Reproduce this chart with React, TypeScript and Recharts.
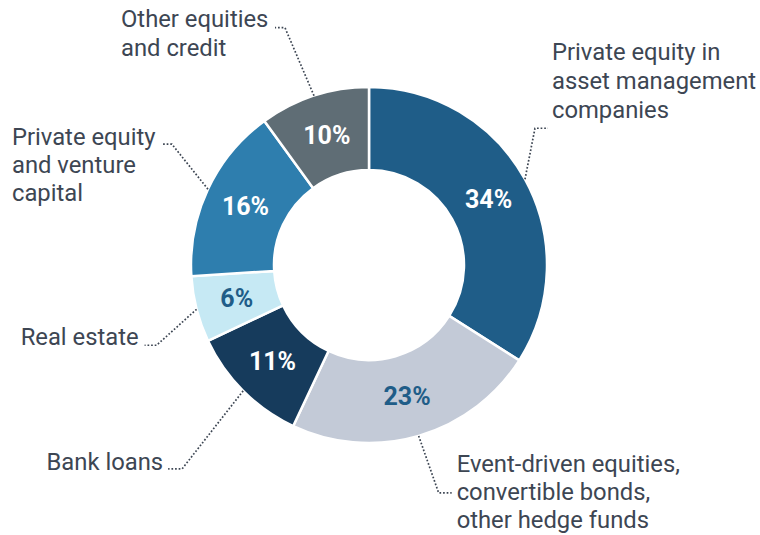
import { Pie, PieChart, Cell } from 'recharts';

const categories = [
  'Private equity in asset management companies',
  'Event-driven equities, convertible bonds, other hedge funds',
  'Bank loans',
  'Real estate',
  'Private equity and venture capital',
  'Other equities and credit',
];
const shares = [34, 23, 11, 6, 16, 10];
const labelLines = [
  ['Private equity in', 'asset management', 'companies'],
  ['Event-driven equities,', 'convertible bonds,', 'other hedge funds'],
  ['Bank loans'],
  ['Real estate'],
  ['Private equity', 'and venture', 'capital'],
  ['Other equities', 'and credit'],
];

const colors = ['#1f5d88', '#c3cad7', '#163b5c', '#c6e9f4', '#2e7eae', '#5f6d75'];
const pctColors = ['#ffffff', '#1f5d88', '#ffffff', '#1f5d88', '#ffffff', '#ffffff'];

// leader layout: elbow offset from the slice edge, horizontal run, text offset / anchor, line baselines relative to elbow
const leaders = [
  { dx: 10, dy: -51, run: 13, tx: 4, anchor: 'start', ys: [-68, -39, -10] },
  { dx: 20, dy: 57, run: 13, tx: 5, anchor: 'start', ys: [-21, 7, 35] },
  { dx: -61, dy: 78, run: -14, tx: -5, anchor: 'end', ys: [1] },
  { dx: -40, dy: 36, run: -12, tx: -6, anchor: 'end', ys: [0] },
  { dx: -36, dy: -45, run: -10, tx: -150, anchor: 'start', ys: [1, 29, 57] },
  { dx: -29, dy: -68, run: -10, tx: -154, anchor: 'start', ys: [-1, 28] },
];

const data = categories.map((name, i) => ({ name, value: shares[i] }));
const RAD = Math.PI / 180;

function renderLabel(props: any) {
  const { cx, cy, midAngle, innerRadius, outerRadius, index, value } = props;
  const cos = Math.cos(-midAngle * RAD);
  const sin = Math.sin(-midAngle * RAD);
  const mr = (innerRadius + outerRadius) / 2;
  const px = cx + mr * cos;
  const py = cy + mr * sin;
  const sx = cx + outerRadius * cos;
  const sy = cy + outerRadius * sin;
  const l = leaders[index];
  const ex = sx + l.dx;
  const ey = sy + l.dy;
  const hx = ex + l.run;
  return (
    <g key={`lbl-${index}`}>
      <text
        x={px}
        y={py}
        textAnchor="middle"
        dominantBaseline="central"
        fill={pctColors[index]}
        fontFamily="Roboto"
        fontWeight={700}
        fontSize={25}
      >
        {`${value}%`}
      </text>
      <polyline
        points={`${sx},${sy} ${ex},${ey} ${hx},${ey}`}
        fill="none"
        stroke="#3d4653"
        strokeWidth={1.7}
        strokeDasharray="1.7 1.9"
      />
      <text
        x={hx + l.tx}
        textAnchor={l.anchor as any}
        fill="#3d4653"
        fontFamily="Roboto"
        fontSize={23.8}
      >
        {labelLines[index].map((t, j) => (
          <tspan key={j} x={hx + l.tx} y={ey + l.ys[j]}>
            {t}
          </tspan>
        ))}
      </text>
    </g>
  );
}

export default function App() {
  return (
    <div style={{ position: 'absolute', left: 0, top: 0, background: '#fff' }}>
      <PieChart width={760} height={535} margin={{ top: 0, right: 0, bottom: 0, left: 0 }}>
        <Pie
          data={data}
          dataKey="value"
          nameKey="name"
          cx={369}
          cy={265}
          innerRadius={95}
          outerRadius={178}
          startAngle={90}
          endAngle={-270}
          stroke="#ffffff"
          strokeWidth={2.5}
          label={renderLabel}
          labelLine={false}
          isAnimationActive={false}
        >
          {data.map((d, i) => (
            <Cell key={d.name} fill={colors[i]} />
          ))}
        </Pie>
      </PieChart>
    </div>
  );
}
